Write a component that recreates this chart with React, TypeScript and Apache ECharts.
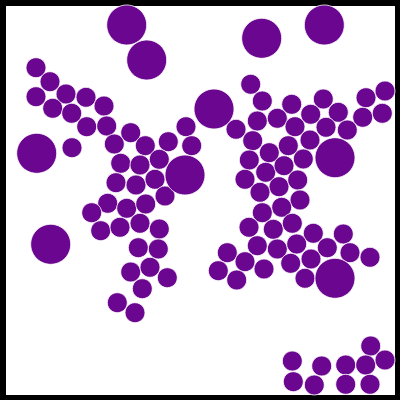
import React, { useEffect, useRef } from "react";
import * as echarts from "echarts";

// [x, y] centres (pixel-aligned value axes)
const smallPoints: number[][] = [
  [36, 67.7], [50, 81.7], [36, 96.7], [66, 94], [86, 97.3], [52.7, 108.3],
  [71.7, 113.3], [104, 106], [86.7, 126.7], [106.7, 126], [130.7, 132.7],
  [186, 126.7], [72, 147.7], [114.3, 144], [145.3, 145.7], [168.3, 141.7],
  [191.7, 145.7], [120.7, 163.3], [140, 165], [159.3, 159.3], [116, 182.7],
  [136, 185], [155, 179.3], [107.7, 203.3], [126.7, 208.3], [145.7, 204],
  [165, 196], [91.7, 212.7], [100.7, 230.7], [120, 227.3], [140, 223.3],
  [159.3, 229], [138.3, 247.7], [158.3, 249], [130.7, 272], [150, 267.3],
  [167.3, 277.7], [142.3, 288.7], [117.3, 302.7], [135, 312.7],
  [250.7, 84.3], [262.3, 101], [291.7, 104.3], [323.3, 99], [366, 97.7],
  [385, 91], [236, 129.3], [257.3, 121], [277.3, 118.3], [295, 126.7],
  [310.7, 114.3], [338.3, 112.3], [362.7, 117.3], [382.3, 113.3],
  [326, 127.3], [347.3, 130], [252.7, 140.7], [269.3, 152.7], [288.3, 145.7],
  [310, 140], [249.3, 160], [303.3, 159], [265.7, 172.3], [284, 165.7],
  [245, 179.3], [279, 186.7], [297.7, 180], [260, 192.3], [300, 200],
  [281.7, 207.3], [262.3, 212.7], [249, 227.3], [273.3, 229.3], [292.3, 223.3],
  [313.3, 233.3], [343.3, 234], [227.3, 252.7], [257.3, 245.7], [277.3, 249],
  [296.7, 244], [327.3, 247.7], [350, 252.7], [370, 257.3], [218.3, 270.7],
  [245, 261.7], [264, 269], [290.7, 263.3], [311, 259], [236.7, 280],
  [305, 278.3], [370.7, 346], [292.3, 361], [321.7, 366], [345.7, 365],
  [365.7, 365], [385, 360], [293.3, 381.7], [314.3, 385], [345.7, 384.3],
  [370, 384.3],
];

const bigPoints: number[][] = [
  [126.7, 25], [146.7, 60], [36.7, 153.3], [185, 175], [50.7, 244.3],
  [214, 109], [261.7, 38.3], [324.3, 25], [335, 157.7], [335, 278.3],
];

const smallSize = 20;
const bigSize = 40;
const dotColor = "#6a068f";

export default function App() {
  const ref = useRef<HTMLDivElement>(null);
  useEffect(() => {
    if (!ref.current) return;
    const chart = echarts.init(ref.current, undefined, { renderer: "svg" });
    const itemStyle = {
      color: dotColor,
      opacity: 1,
      borderColor: "#ffffff",
      borderWidth: 0.8,
    };
    chart.setOption({
      animation: false,
      backgroundColor: "#000000",
      grid: {
        left: 6,
        top: 6,
        right: 5,
        bottom: 5,
        show: true,
        backgroundColor: "#ffffff",
        borderWidth: 0,
      },
      xAxis: { type: "value", min: 6, max: 395, show: false },
      yAxis: { type: "value", min: 6, max: 395, inverse: true, show: false },
      series: [
        {
          type: "scatter",
          data: smallPoints,
          symbolSize: smallSize,
          itemStyle,
          clip: false,
        },
        {
          type: "scatter",
          data: bigPoints,
          symbolSize: bigSize,
          itemStyle,
          clip: false,
        },
      ],
    });
    return () => chart.dispose();
  }, []);
  return (
    <div
      ref={ref}
      style={{ position: "fixed", left: 0, top: 0, width: 400, height: 400 }}
    />
  );
}
